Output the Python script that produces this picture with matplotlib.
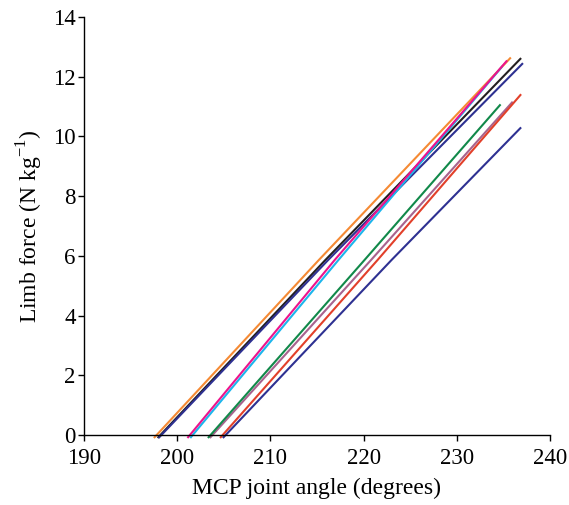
import matplotlib
matplotlib.use('Agg')
import matplotlib.pyplot as plt

plt.rcParams['font.family'] = ['Liberation Serif', 'DejaVu Serif']
plt.rcParams['mathtext.fontset'] = 'custom'
plt.rcParams['mathtext.rm'] = 'Liberation Serif'

# MCP joint angle (degrees) / limb force (N kg-1) for each trial
orange_x = [197.5, 215.2, 235.8]
orange_y = [-0.1, 5.86, 12.64]
black_x = [197.9, 215.9, 236.9]
black_y = [-0.1, 5.86, 12.62]
navy_x = [198.0, 216.2, 237.1]
navy_y = [-0.1, 5.86, 12.45]
magenta_x = [201.1, 216.9, 235.4]
magenta_y = [-0.1, 5.86, 12.54]
cyan_x = [201.4, 217.3, 234.9]
cyan_y = [-0.1, 5.86, 12.35]
green_x = [203.3, 220.1, 234.7]
green_y = [-0.1, 5.86, 11.07]
mauve_x = [203.5, 220.8, 236.0]
mauve_y = [-0.1, 5.86, 11.16]
red_x = [204.6, 221.5, 236.9]
red_y = [-0.1, 5.86, 11.41]
blue_x = [204.9, 223.0, 236.9]
blue_y = [-0.1, 5.86, 10.30]

series = [
    (orange_x, orange_y, '#F58A34'),
    (black_x, black_y, '#231F20'),
    (navy_x, navy_y, '#2E3192'),
    (mauve_x, mauve_y, '#A8638E'),
    (green_x, green_y, '#11894A'),
    (red_x, red_y, '#E2402A'),
    (blue_x, blue_y, '#2E3192'),
    (cyan_x, cyan_y, '#1CB5EC'),
    (magenta_x, magenta_y, '#EC138C'),
]

fig = plt.figure(figsize=(5.69, 5.05), dpi=100)
ax = fig.add_axes([0.1476, 0.1386, 0.819, 0.828])

for xs, ys, c in series:
    ax.plot(xs, ys, color=c, lw=1.5, clip_on=False, solid_capstyle='butt')

ax.set_xlim(190, 240)
ax.set_ylim(0, 14)
ax.set_xticks(range(190, 241, 10))
ax.set_yticks(range(0, 15, 2))
ax.spines['top'].set_visible(False)
ax.spines['right'].set_visible(False)
for s in ('left', 'bottom'):
    ax.spines[s].set_linewidth(1.0)
ax.tick_params(direction='out', length=4, width=1.0, labelsize=16.5)
ax.tick_params(axis='x', pad=5)
ax.tick_params(axis='y', pad=2)
ax.set_xlabel('MCP joint angle (degrees)', fontsize=17, labelpad=7)
ax.set_ylabel(r'Limb force (N kg$^{\mathregular{-1}}$)', fontsize=17, labelpad=6)

fig.savefig('out.png', dpi=100)
